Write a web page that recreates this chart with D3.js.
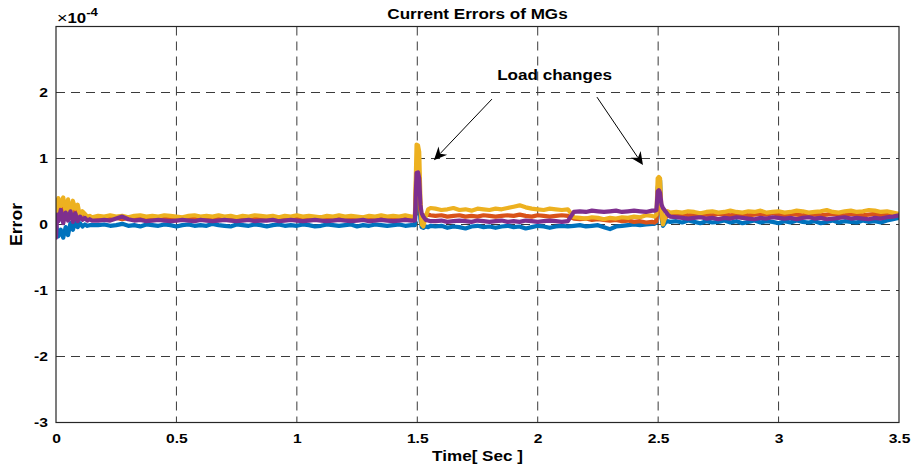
<!DOCTYPE html>
<html><head><meta charset="utf-8">
<script src="https://cdn.jsdelivr.net/npm/d3@7"></script>
<style>
html,body{margin:0;padding:0;background:#fff;}
svg{display:block;}
text{font-family:"Liberation Sans",Arial,sans-serif;font-weight:bold;fill:#000;}
</style></head><body>
<svg id="chart" width="914" height="468"></svg>
<script>
// ---- data (error values in units of 1e-4) ----
const time = [
0,0.005,0.01,0.02,0.03,0.04,0.05,0.06,0.07,0.08,0.09,0.10,0.11,0.12,0.13,0.14,0.15,
0.175,0.2,0.225,0.25,0.275,0.3,0.325,0.35,0.375,0.4,
0.425,0.45,0.475,0.5,0.525,0.55,0.575,0.6,0.625,0.65,
0.675,0.7,0.725,0.75,0.775,0.8,0.825,0.85,0.875,0.9,
0.925,0.95,0.975,1.0,1.025,1.05,1.075,1.1,1.125,1.15,
1.175,1.2,1.225,1.25,1.275,1.3,1.325,1.35,1.375,1.4,
1.425,1.45,1.475,
1.49,1.497,1.503,1.508,1.513,1.518,1.525,1.535,1.545,1.555,
1.575,1.6,1.625,1.65,1.675,1.7,1.725,1.75,1.775,1.8,
1.825,1.85,1.875,1.9,1.925,1.95,1.975,2.0,2.025,2.05,
2.075,2.1,2.125,2.15,2.175,2.2,2.225,2.25,2.275,2.3,
2.325,2.35,2.375,2.4,2.425,2.45,2.475,
2.485,2.493,2.498,2.503,2.508,2.514,2.52,2.53,2.54,2.55,
2.575,2.6,2.625,2.65,2.675,2.7,2.725,2.75,2.775,2.8,
2.825,2.85,2.875,2.9,2.925,2.95,2.975,3.0,3.025,3.05,
3.075,3.1,3.125,3.15,3.175,3.2,3.225,3.25,3.275,3.3,
3.325,3.35,3.375,3.4,3.425,3.45,3.475,3.5
];
const mg1 = [ // blue
0.00,-0.10,-0.18,-0.08,-0.20,-0.04,-0.16,0.02,-0.08,0.03,-0.04,0.02,-0.03,0.00,-0.02,-0.01,-0.01,
-0.01,0.00,-0.02,-0.01,0.01,-0.02,-0.01,-0.03,0.00,-0.01,
-0.02,0.00,-0.01,-0.03,-0.01,0.00,-0.02,-0.01,-0.02,0.01,
-0.01,-0.02,-0.03,0.00,-0.01,-0.02,0.00,-0.01,-0.03,-0.01,
0.00,-0.02,-0.01,-0.02,0.00,-0.01,-0.03,-0.02,0.00,-0.01,
-0.02,-0.01,0.00,-0.03,-0.01,-0.02,0.00,-0.01,-0.02,-0.01,
0.00,-0.02,-0.01,
-0.01,0.55,0.50,0.35,0.08,-0.04,-0.05,-0.03,-0.04,-0.02,
-0.03,-0.02,-0.05,-0.03,-0.04,-0.06,-0.03,-0.02,-0.04,-0.03,
-0.05,-0.03,-0.02,-0.04,-0.03,-0.06,-0.04,-0.02,-0.03,-0.05,
-0.03,-0.02,-0.03,-0.02,-0.01,-0.03,-0.02,-0.01,-0.04,-0.07,
-0.03,-0.02,-0.01,0.00,-0.01,0.00,0.01,
0.01,0.03,0.55,0.68,0.67,0.10,-0.02,0.03,0.05,0.04,
0.05,0.03,0.06,0.04,0.02,0.05,0.03,0.04,0.06,0.03,
0.05,0.02,0.04,0.06,0.03,0.05,0.04,0.02,0.05,0.03,
0.06,0.04,0.03,0.05,0.02,0.04,0.06,0.03,0.05,0.04,
0.03,0.06,0.04,0.05,0.03,0.06,0.08,0.10
];
const mg2 = [ // orange
0.00,0.28,0.32,0.22,0.30,0.14,0.26,0.20,0.30,0.16,0.22,0.12,0.18,0.14,0.11,0.12,0.10,
0.10,0.09,0.11,0.10,0.08,0.10,0.09,0.11,0.10,0.09,
0.10,0.11,0.09,0.10,0.08,0.10,0.11,0.09,0.10,0.09,
0.11,0.10,0.09,0.10,0.11,0.09,0.10,0.08,0.10,0.11,
0.09,0.10,0.09,0.11,0.10,0.09,0.10,0.11,0.09,0.10,
0.08,0.10,0.09,0.11,0.10,0.09,0.10,0.09,0.11,0.10,
0.09,0.10,0.09,
0.09,0.90,0.85,0.60,0.20,0.05,0.08,0.14,0.15,0.14,
0.13,0.14,0.12,0.13,0.14,0.12,0.13,0.12,0.14,0.13,
0.12,0.13,0.14,0.13,0.15,0.13,0.12,0.14,0.13,0.12,
0.13,0.14,0.13,0.09,0.08,0.09,0.07,0.08,0.07,0.06,
0.07,0.05,0.06,0.04,0.05,0.03,0.04,
0.03,0.05,0.40,0.45,0.40,0.15,0.05,0.10,0.14,0.15,
0.15,0.16,0.14,0.15,0.16,0.15,0.14,0.16,0.15,0.14,
0.15,0.16,0.14,0.15,0.16,0.15,0.17,0.15,0.14,0.16,
0.15,0.14,0.16,0.15,0.14,0.15,0.16,0.15,0.14,0.16,
0.15,0.14,0.15,0.16,0.14,0.15,0.14,0.15
];
const mg3 = [ // yellow
0.00,0.35,0.40,0.28,0.41,0.20,0.38,0.15,0.36,0.24,0.30,0.12,0.20,0.16,0.12,0.13,0.11,
0.13,0.12,0.14,0.12,0.13,0.11,0.13,0.14,0.12,0.13,
0.12,0.14,0.13,0.12,0.11,0.13,0.14,0.12,0.13,0.12,
0.14,0.12,0.13,0.11,0.13,0.12,0.14,0.13,0.12,0.13,
0.11,0.13,0.12,0.14,0.12,0.13,0.12,0.11,0.13,0.12,
0.14,0.12,0.13,0.12,0.11,0.13,0.12,0.14,0.12,0.13,
0.12,0.14,0.12,
0.12,1.21,1.20,1.10,0.40,0.00,-0.03,0.12,0.23,0.25,
0.24,0.22,0.23,0.25,0.22,0.23,0.21,0.24,0.23,0.22,
0.24,0.23,0.25,0.27,0.29,0.26,0.24,0.23,0.22,0.24,
0.23,0.22,0.23,0.11,0.10,0.09,0.11,0.10,0.08,0.10,
0.09,0.11,0.10,0.12,0.11,0.14,0.13,
0.12,0.15,0.70,0.72,0.70,0.20,0.00,0.12,0.20,0.18,
0.19,0.18,0.20,0.19,0.17,0.19,0.20,0.18,0.19,0.21,
0.19,0.18,0.20,0.19,0.21,0.18,0.19,0.20,0.18,0.19,
0.21,0.20,0.18,0.19,0.20,0.22,0.19,0.18,0.20,0.21,
0.19,0.20,0.22,0.21,0.19,0.20,0.18,0.16
];
const mg4 = [ // purple
-0.20,0.15,0.05,0.22,0.02,0.18,0.06,0.20,0.04,0.17,0.05,0.12,0.07,0.10,0.06,0.08,0.06,
0.06,0.07,0.06,0.09,0.12,0.08,0.06,0.07,0.05,0.06,
0.07,0.06,0.05,0.06,0.07,0.06,0.05,0.07,0.06,0.05,
0.06,0.07,0.06,0.05,0.06,0.07,0.05,0.06,0.06,0.07,
0.05,0.06,0.07,0.06,0.05,0.06,0.07,0.06,0.05,0.06,
0.07,0.06,0.05,0.06,0.07,0.05,0.06,0.07,0.06,0.05,
0.06,0.07,0.06,
0.06,0.78,0.79,0.70,0.30,0.17,0.12,0.07,0.06,0.05,
0.05,0.06,0.04,0.05,0.06,0.05,0.04,0.06,0.05,0.04,
0.05,0.06,0.04,0.05,0.04,0.06,0.05,0.04,0.05,0.06,
0.05,0.04,0.05,0.19,0.20,0.19,0.21,0.20,0.19,0.20,
0.21,0.19,0.20,0.21,0.20,0.19,0.21,
0.21,0.22,0.50,0.52,0.48,0.30,0.25,0.20,0.15,0.12,
0.11,0.10,0.09,0.10,0.11,0.09,0.10,0.08,0.10,0.09,
0.11,0.10,0.09,0.08,0.10,0.09,0.11,0.10,0.09,0.10,
0.08,0.10,0.11,0.09,0.10,0.08,0.09,0.10,0.11,0.09,
0.10,0.09,0.08,0.10,0.09,0.11,0.12,0.14
];
const seriesValues = [mg1, mg2, mg3, mg4];
const seriesColors = ["#0072BD", "#D95319", "#EDB120", "#7E2F8E"];
const xTicks = [0, 0.5, 1, 1.5, 2, 2.5, 3, 3.5];
const xTickLabels = ["0", "0.5", "1", "1.5", "2", "2.5", "3", "3.5"];
const yTicks = [-3, -2, -1, 0, 1, 2, 3];
const yTickLabels = ["-3", "-2", "-1", "0", "1", "2", ""];
const titleText = "Current Errors of MGs";
const xLabelText = "Time[ Sec ]";
const yLabelText = "Error";
const annotationText = "Load changes";
const annotationPos = [2.07, 2.19];
const arrows = [ // [fromT, fromY, toT, toY]
  [1.81, 1.90, 1.569, 0.975],
  [2.246, 1.93, 2.437, 0.90]
];

// ---- layout ----
const svg = d3.select("#chart");
const L = 56, R = 899, T = 26.5, B = 422.5;
const x = d3.scaleLinear().domain([0, 3.5]).range([L, R]);
const y = d3.scaleLinear().domain([-3, 3]).range([B, T]);
const stretch = 1.25;
function widen(sel, f) {
  sel.each(function () {
    const len = this.getComputedTextLength();
    d3.select(this).attr("textLength", len * (f || stretch)).attr("lengthAdjust", "spacingAndGlyphs");
  });
}

// grid
const grid = svg.append("g");
grid.selectAll(".vg").data(xTicks.filter(d => d > 0 && d < 3.5)).join("line")
  .attr("x1", d => x(d)).attr("x2", d => x(d)).attr("y1", T).attr("y2", B)
  .attr("stroke", "#3a3a3a").attr("stroke-width", 1).attr("stroke-dasharray", "9,6");
grid.selectAll(".hg").data(yTicks.filter(d => d > -3 && d < 3)).join("line")
  .attr("x1", L).attr("x2", R).attr("y1", d => y(d)).attr("y2", d => y(d))
  .attr("stroke", "#3a3a3a").attr("stroke-width", 1).attr("stroke-dasharray", "9,6");

// series
svg.append("clipPath").attr("id", "clip").append("rect")
  .attr("x", L).attr("y", T).attr("width", R - L).attr("height", B - T);
const line = d3.line().x((d, i) => x(time[i])).y(d => y(d));
const plot = svg.append("g").attr("clip-path", "url(#clip)");
seriesValues.forEach((vals, k) => {
  plot.append("path").datum(vals).attr("d", line)
    .attr("fill", "none").attr("stroke", seriesColors[k])
    .attr("stroke-width", 4.2).attr("stroke-linejoin", "round").attr("stroke-linecap", "round");
});

// axes box
svg.append("rect").attr("x", L).attr("y", T).attr("width", R - L).attr("height", B - T)
  .attr("fill", "none").attr("stroke", "#262626").attr("stroke-width", 1.2);

// axes (labels only, MATLAB style)
const xAxis = d3.axisBottom(x).tickValues(xTicks).tickSize(0).tickPadding(12)
  .tickFormat((d, i) => xTickLabels[i]);
const gx = svg.append("g").attr("transform", `translate(0,${B})`).call(xAxis);
gx.select(".domain").remove();
gx.selectAll("text").attr("font-size", 12.5).attr("font-family", "Liberation Sans, Arial, sans-serif")
  .attr("font-weight", "bold").attr("fill", "#000");
widen(gx.selectAll("text"));

const yAxis = d3.axisLeft(y).tickValues(yTicks).tickSize(0).tickPadding(8)
  .tickFormat((d, i) => yTickLabels[i]);
const gy = svg.append("g").attr("transform", `translate(${L},0)`).call(yAxis);
gy.select(".domain").remove();
gy.selectAll("text").attr("font-size", 12.5).attr("font-family", "Liberation Sans, Arial, sans-serif")
  .attr("font-weight", "bold").attr("fill", "#000");
widen(gy.selectAll("text"));

// exponent
const ex = svg.append("text").attr("x", L + 1).attr("y", 23);
ex.append("tspan").attr("font-size", 15).attr("font-weight", "normal").text("\u00d7");
ex.append("tspan").attr("font-size", 14).text("10");
ex.append("tspan").attr("font-size", 11).attr("dy", -7).text("-4");
widen(ex, 1.2);

// title & labels
const title = svg.append("text").attr("x", (L + R) / 2).attr("y", 19).attr("text-anchor", "middle")
  .attr("font-size", 14).text(titleText);
widen(title, 1.22);
const xl = svg.append("text").attr("x", (L + R) / 2).attr("y", 461).attr("text-anchor", "middle")
  .attr("font-size", 14).text(xLabelText);
widen(xl, 1.22);
const yl = svg.append("text").attr("transform", `translate(22,${y(0)}) rotate(-90)`).attr("text-anchor", "middle")
  .attr("font-size", 16).text(yLabelText);
widen(yl, 1.1);

// annotation
const ann = svg.append("text").attr("x", x(annotationPos[0])).attr("y", y(annotationPos[1]))
  .attr("text-anchor", "middle").attr("font-size", 14).text(annotationText);
widen(ann, 1.22);
arrows.forEach(a => {
  const x1 = x(a[0]), y1 = y(a[1]), x2 = x(a[2]), y2 = y(a[3]);
  const ang = Math.atan2(y2 - y1, x2 - x1);
  const hl = 13, hw = 6, notch = 9;
  const ux = Math.cos(ang), uy = Math.sin(ang), px = -uy, py = ux;
  const bx = x2 - ux * hl, by = y2 - uy * hl;
  const nx = x2 - ux * notch, ny = y2 - uy * notch;
  svg.append("line").attr("x1", x1).attr("y1", y1).attr("x2", nx).attr("y2", ny)
    .attr("stroke", "#000").attr("stroke-width", 1);
  svg.append("path").attr("d", `M${x2},${y2}L${bx + px * hw},${by + py * hw}L${nx},${ny}L${bx - px * hw},${by - py * hw}Z`)
    .attr("fill", "#000");
});
</script>
</body></html>
